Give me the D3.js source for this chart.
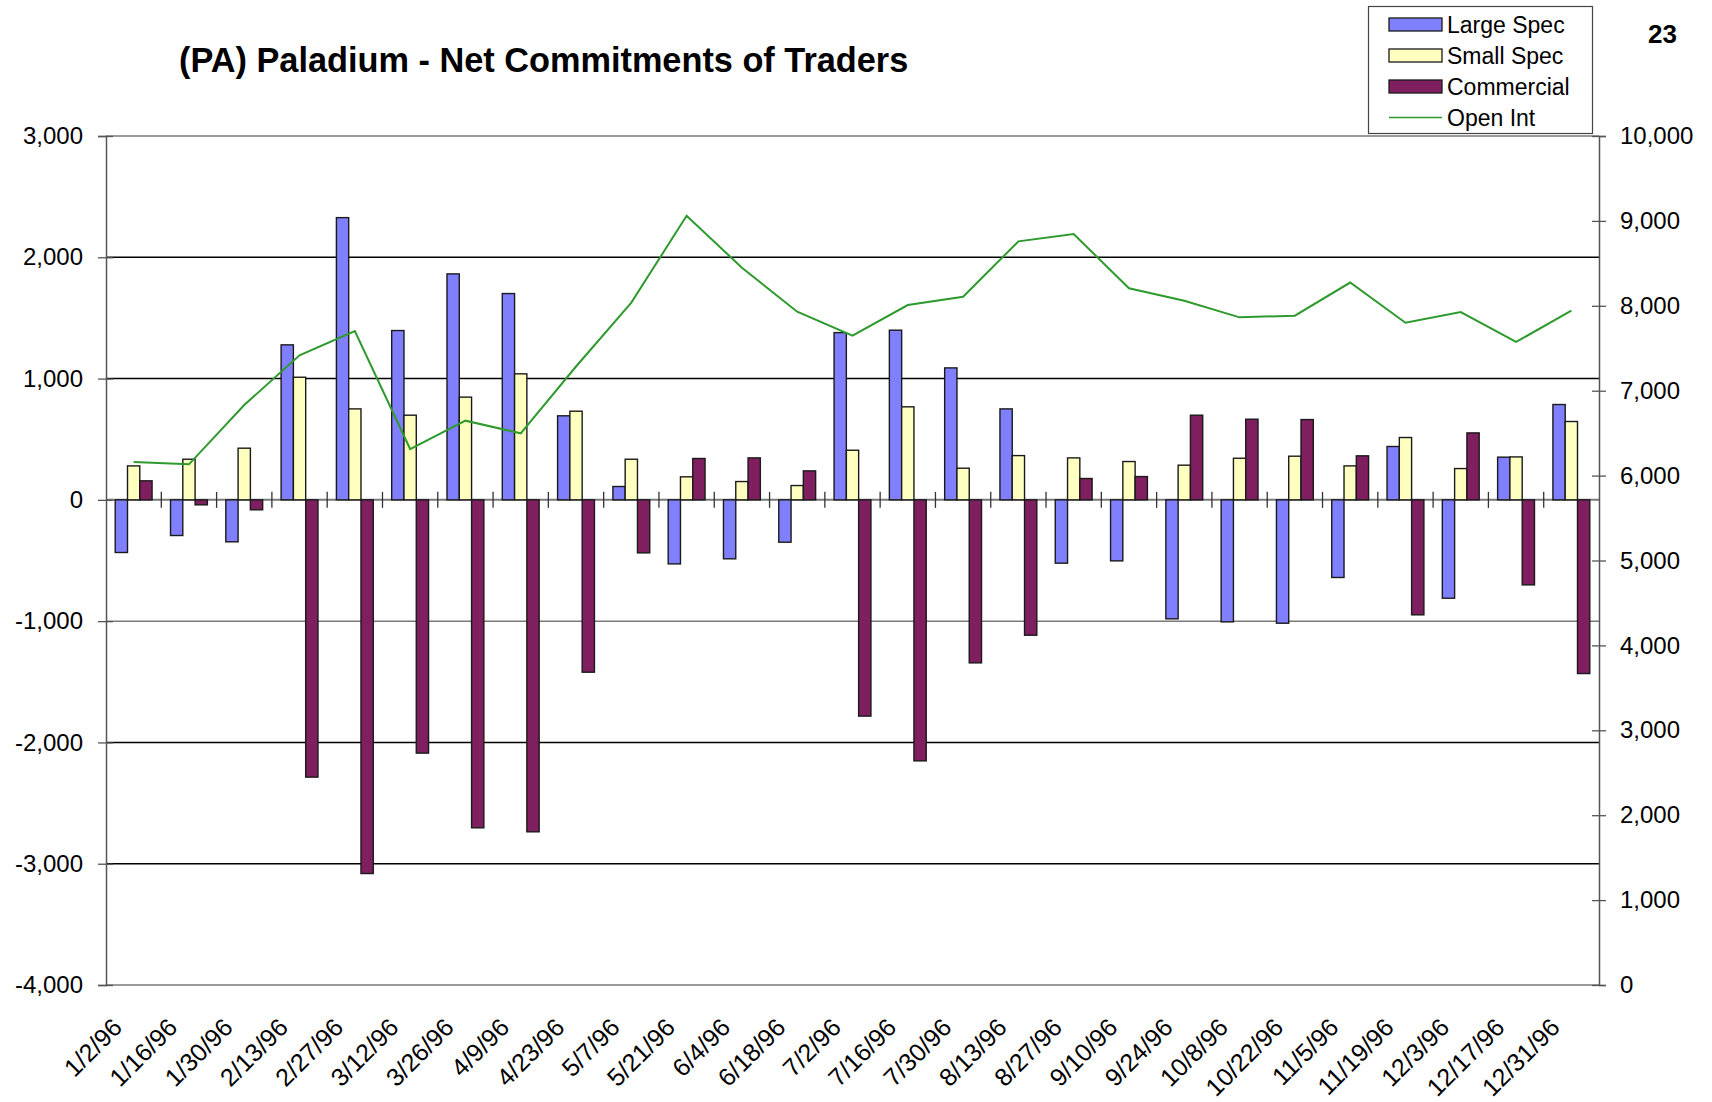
<!DOCTYPE html>
<html>
<head>
<meta charset="utf-8">
<script src="https://cdn.jsdelivr.net/npm/d3@7"></script>
<style>
    body { margin: 0; background: #fff; }
    svg text { font-family: "Liberation Sans", Arial, sans-serif; fill: #000; }
</style>
</head>
<body>
<div id="chart"></div>
<script>
// Data
//
var dates = ["1/2/96", "1/16/96", "1/30/96", "2/13/96", "2/27/96", "3/12/96", "3/26/96",
    "4/9/96", "4/23/96", "5/7/96", "5/21/96", "6/4/96", "6/18/96", "7/2/96", "7/16/96",
    "7/30/96", "8/13/96", "8/27/96", "9/10/96", "9/24/96", "10/8/96", "10/22/96",
    "11/5/96", "11/19/96", "12/3/96", "12/17/96", "12/31/96"];

var largeSpec  = [-434, -294, -346, 1278, 2327, 1396, 1863, 1701, 693, 110, -528, -486, -349,
    1379, 1399, 1088, 750, -522, -503, -981, -1006, -1017, -640, 440, -811, 352, 786];
var smallSpec  = [280, 335, 426, 1011, 750, 698, 847, 1039, 731, 335, 190, 151, 118,
    409, 767, 261, 365, 346, 316, 286, 343, 360, 280, 514, 258, 354, 646];
var commercial = [157, -41, -82, -2286, -3081, -2088, -2704, -2737, -1421, -437, 341, 346, 239,
    -1783, -2152, -1344, -1116, 176, 192, 698, 665, 662, 363, -948, 552, -701, -1432];
var openInt    = [6160, 6133, 6831, 7417, 7703, 6313, 6647, 6498, 7285, 8037, 9061, 8449, 7931,
    7648, 8009, 8107, 8759, 8845, 8206, 8060, 7864, 7884, 8274, 7801, 7927, 7574, 7942];

var seriesNames  = ["Large Spec", "Small Spec", "Commercial"];
var seriesColors = ["#8080ff", "#ffffc0", "#7f1f5f"];
var lineName     = "Open Int";
var lineColor    = "#2e9a2e";

var leftTicks  = [-4000, -3000, -2000, -1000, 0, 1000, 2000, 3000];
var rightTicks = [0, 1000, 2000, 3000, 4000, 5000, 6000, 7000, 8000, 9000, 10000];

// Layout
//
var svg_width  = 1712;
var svg_height = 1102;
var x_box_min  = 106;
var x_box_max  = 1599;
var y_box_min  = 136;
var y_box_max  = 985;

// Number format with a plain hyphen for negatives
var fmt = d3.formatLocale({ decimal: ".", thousands: ",", grouping: [3], currency: ["$", ""], minus: "-" }).format(",");

var svg = d3.select("#chart").append("svg")
    .attr("width", svg_width)
    .attr("height", svg_height)
    .attr("viewBox", `0 0 ${svg_width} ${svg_height}`);

// Scales
//
var x = d3.scaleBand()
    .domain(dates)
    .range([x_box_min, x_box_max])
    .padding(0);

var xSub = d3.scaleBand()
    .domain(seriesNames)
    .range([0, x.bandwidth()])
    .paddingInner(0)
    .paddingOuter(0.75);

var y = d3.scaleLinear()
    .domain([-4000, 3000])
    .range([y_box_max, y_box_min]);

var y2 = d3.scaleLinear()
    .domain([0, 10000])
    .range([y_box_max, y_box_min]);

// Gridlines
//
svg.append("g")
    .attr("class", "grid")
    .selectAll("line")
    .data(leftTicks)
    .join("line")
    .attr("x1", x_box_min)
    .attr("x2", x_box_max)
    .attr("y1", d => y(d))
    .attr("y2", d => y(d))
    .attr("stroke", d => (d === 0 || d === -1000 || d === 3000 || d === -4000) ? "#7a7a7a" : "#000")
    .attr("stroke-width", d => d === 0 ? 2 : 1.5);

// Bars
//
var barData = [];
dates.forEach(function(date, i) {
    barData.push({ date: date, key: seriesNames[0], value: largeSpec[i],  color: seriesColors[0] });
    barData.push({ date: date, key: seriesNames[1], value: smallSpec[i],  color: seriesColors[1] });
    barData.push({ date: date, key: seriesNames[2], value: commercial[i], color: seriesColors[2] });
});

svg.append("g")
    .attr("class", "bars")
    .selectAll("rect")
    .data(barData)
    .join("rect")
    .attr("x", d => x(d.date) + xSub(d.key))
    .attr("y", d => y(Math.max(0, d.value)))
    .attr("width", xSub.bandwidth())
    .attr("height", d => Math.abs(y(d.value) - y(0)))
    .attr("fill", d => d.color)
    .attr("stroke", "#1a1a1a")
    .attr("stroke-width", 1.4);

// Category tick marks on the zero line
//
svg.append("g")
    .attr("class", "catTicks")
    .selectAll("line")
    .data(dates.slice(1))
    .join("line")
    .attr("x1", d => x(d))
    .attr("x2", d => x(d))
    .attr("y1", y(0) - 8)
    .attr("y2", y(0) + 8)
    .attr("stroke", "#333")
    .attr("stroke-width", 1.3);

// Open interest line
//
var line = d3.line()
    .x((d, i) => x(dates[i]) + x.bandwidth() / 2)
    .y(d => y2(d));

svg.append("path")
    .datum(openInt)
    .attr("d", line)
    .attr("fill", "none")
    .attr("stroke", lineColor)
    .attr("stroke-width", 2);

// Left y axis
//
var leftAxis = svg.append("g")
    .attr("transform", `translate(${x_box_min},0)`)
    .call(d3.axisLeft(y).tickValues(leftTicks).tickFormat(fmt).tickSize(8).tickPadding(15));
leftAxis.select(".domain").attr("stroke", "#555").attr("stroke-width", 1.5);
leftAxis.selectAll(".tick line").attr("x1", 7).attr("x2", -8).attr("stroke", "#555").attr("stroke-width", 1.3);
leftAxis.selectAll(".tick text")
    .style("font-size", "24px")
    .style("font-family", "'Liberation Sans', Arial, sans-serif")
    .attr("fill", "#000");

// Right y axis
//
var rightAxis = svg.append("g")
    .attr("transform", `translate(${x_box_max},0)`)
    .call(d3.axisRight(y2).tickValues(rightTicks).tickFormat(fmt).tickSize(7).tickPadding(14));
rightAxis.select(".domain").attr("stroke", "#555").attr("stroke-width", 1.5);
rightAxis.selectAll(".tick line").attr("x1", -7).attr("x2", 7).attr("stroke", "#555").attr("stroke-width", 1.3);
rightAxis.selectAll(".tick text")
    .style("font-size", "24px")
    .style("font-family", "'Liberation Sans', Arial, sans-serif")
    .attr("fill", "#000");

// Category labels (rotated)
//
svg.append("g")
    .attr("class", "xLabels")
    .selectAll("text")
    .data(dates)
    .join("text")
    .attr("transform", d => `translate(${x(d) + x.bandwidth() / 2 - 10},${y_box_max + 44}) rotate(-45)`)
    .attr("text-anchor", "end")
    .style("font-size", "25px")
    .text(d => d);

// Title and page number
//
svg.append("text")
    .attr("x", 179)
    .attr("y", 72)
    .style("font-size", "34.3px")
    .style("font-weight", "bold")
    .text("(PA) Paladium - Net Commitments of Traders");

svg.append("text")
    .attr("x", 1648)
    .attr("y", 43)
    .style("font-size", "26px")
    .style("font-weight", "bold")
    .text("23");

// Legend
//
var legend = svg.append("g").attr("class", "legend");
legend.append("rect")
    .attr("x", 1368.5)
    .attr("y", 6.5)
    .attr("width", 224)
    .attr("height", 127)
    .attr("fill", "#fff")
    .attr("stroke", "#444")
    .attr("stroke-width", 1.2);

var legendItems = seriesNames.map((n, i) => ({ name: n, color: seriesColors[i], type: "bar" }))
    .concat([{ name: lineName, color: lineColor, type: "line" }]);

var legendRow = d3.scaleBand()
    .domain(legendItems.map(d => d.name))
    .range([9, 133]);

var rows = legend.selectAll("g.item")
    .data(legendItems)
    .join("g")
    .attr("class", "item")
    .attr("transform", d => `translate(0,${legendRow(d.name) + legendRow.bandwidth() / 2})`);

rows.filter(d => d.type === "bar").append("rect")
    .attr("x", 1389)
    .attr("y", -6.5)
    .attr("width", 53)
    .attr("height", 13)
    .attr("fill", d => d.color)
    .attr("stroke", "#1a1a1a")
    .attr("stroke-width", 1.3);

rows.filter(d => d.type === "line").append("line")
    .attr("x1", 1389)
    .attr("x2", 1442)
    .attr("y1", 0)
    .attr("y2", 0)
    .attr("stroke", d => d.color)
    .attr("stroke-width", 1.5);

rows.append("text")
    .attr("x", 1447)
    .attr("y", 8)
    .style("font-size", "23px")
    .text(d => d.name);
</script>
</body>
</html>
